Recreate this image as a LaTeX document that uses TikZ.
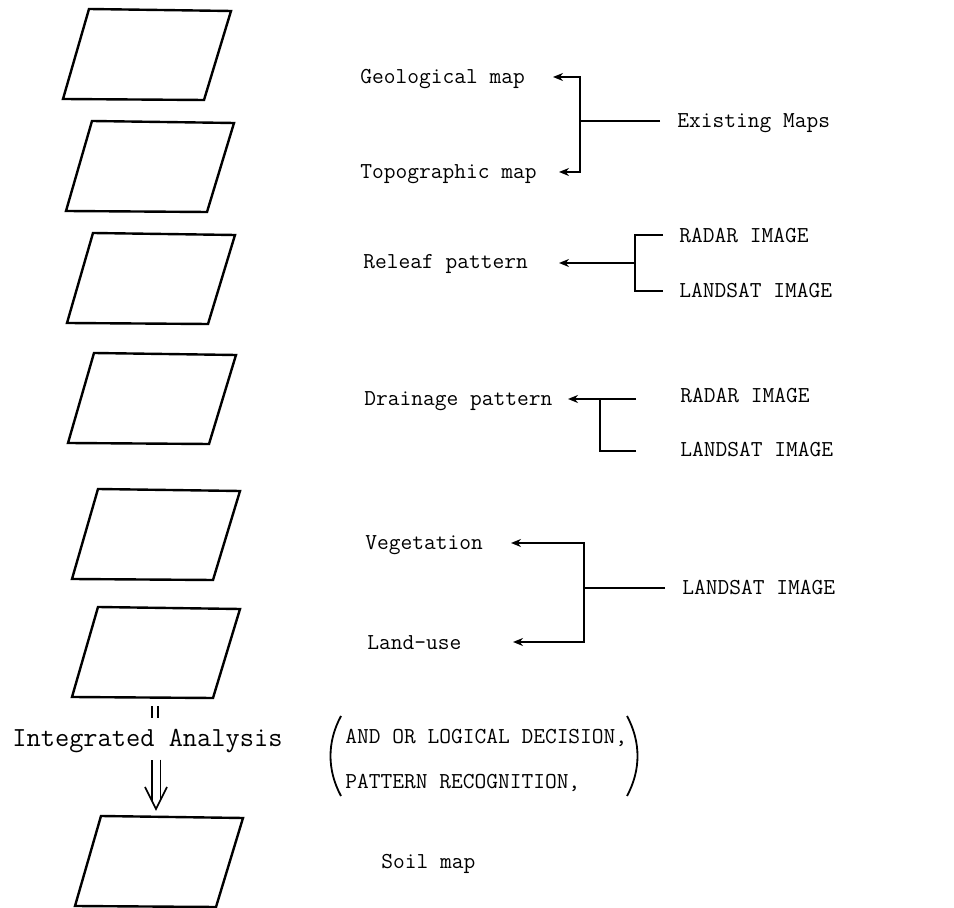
\documentclass[tikz,border=0pt]{standalone}
\usetikzlibrary{arrows.meta,calc}
\begin{document}
\begin{tikzpicture}[x=0.5pt,y=-0.5pt,
  lbl/.style={anchor=base west,inner sep=0pt,font=\ttfamily\fontsize{11.4}{13}\selectfont},
  biglbl/.style={lbl,font=\ttfamily\fontsize{13.8}{16}\selectfont},
  wire/.style={line width=0.9pt},
  arr/.style={wire,-{Stealth[length=5pt,width=4pt]}},
  sheetline/.style={line width=1.2pt,line join=miter},
  sheet/.pic={
    \coordinate (-bl) at (0,0);
    \coordinate (-tl) at (26,-90);
    \coordinate (-tr) at (168,-88);
    \coordinate (-br) at (141,1);
    \draw[sheetline] (-bl) -- (-tl) -- (-tr) -- (-br) -- cycle;
    \coordinate (-top) at (81,-89);
    \coordinate (-bottom) at (83,0.5);
  }]
\useasboundingbox (0,0) rectangle (954,908);

% sheets
\pic (s1) at (63,99) {sheet};
\pic (s2) at (66,211) {sheet};
\pic (s3) at (67,323) {sheet};
\pic (s4) at (68,443) {sheet};
\pic (s5) at (72,579) {sheet};
\pic (s6) at (72,697) {sheet};
\pic (s7) at (75,906) {sheet};

% labels
\node[lbl] (geo) at (360,84) {Geological map};
\node[lbl] (topo) at (360,179) {Topographic map};
\node[lbl] (em) at (677,128) {Existing Maps};
\node[lbl] (rel) at (363,269) {Releaf pattern};
\node[lbl] (rad1) at (679,243) {RADAR IMAGE};
\node[lbl] (ls1) at (679,298) {LANDSAT IMAGE};
\node[lbl] (dra) at (364,406) {Drainage pattern};
\node[lbl] (rad2) at (680,403) {RADAR IMAGE};
\node[lbl] (ls2) at (680,457) {LANDSAT IMAGE};
\node[lbl] (veg) at (365,550) {Vegetation};
\node[lbl] (ls3) at (682,595) {LANDSAT IMAGE};
\node[lbl] (lu) at (367,650) {Land-use};
\node[biglbl] (ia) at (12,747) {Integrated Analysis};
\node[lbl] (and) at (345,744) {AND OR LOGICAL DECISION,};
\node[lbl] (pat) at (345,789) {PATTERN RECOGNITION,};
\node[lbl] (soil) at (381,869) {Soil map};

% existing maps
\coordinate (em-j) at (580,121);
\coordinate (em-r) at (660,121);
\coordinate (geo-tip) at (553,77);
\coordinate (topo-tip) at (559,172);
\draw[arr] (em-j) |- (geo-tip);
\draw[arr] (em-j) |- (topo-tip);
\draw[wire] (em-r) -- (em-j);

% releaf
\coordinate (rl-j) at (635,263);
\coordinate (rl-tip) at (559,263);
\coordinate (rl-r1) at (663,235);
\coordinate (rl-r2) at (663,291);
\draw[arr] (rl-j) -- (rl-tip);
\draw[wire] (rl-r1) -| (rl-j) |- (rl-r2);

% drainage
\coordinate (dr-r1) at (636,399);
\coordinate (dr-tip) at (568,399);
\coordinate (dr-j) at (600,399);
\coordinate (dr-r2) at (636,451);
\draw[arr] (dr-r1) -- (dr-tip);
\draw[wire] (dr-r2) -| (dr-j);

% vegetation / land-use
\coordinate (vg-j) at (584,588);
\coordinate (vg-r) at (665,588);
\coordinate (veg-tip) at (511,543);
\coordinate (lu-tip) at (513,642);
\draw[arr] (vg-j) |- (veg-tip);
\draw[arr] (vg-j) |- (lu-tip);
\draw[wire] (vg-r) -- (vg-j);

% parentheses
\draw[wire] (341,716) .. controls (327,742) and (327,770) .. (341,796);
\draw[wire] (627,716) .. controls (641,742) and (641,770) .. (627,796);

% small double stroke and double arrow
\draw[line width=0.8pt,double distance=2pt] ($(s6-bottom)+(0,9)$) -- ($(s6-bottom)+(0,21)$);
\coordinate (dtip) at ($(s7-top)+(0,-8)$);
\draw[line width=0.8pt,double distance=3.5pt] ($(ia.south -| s7-top)+(0,6)$) -- ($(dtip)+(0,-8)$);
\draw[line width=0.8pt] ($(dtip)+(-11,-22)$) -- (dtip) -- ($(dtip)+(11,-22)$);
\end{tikzpicture}
\end{document}
